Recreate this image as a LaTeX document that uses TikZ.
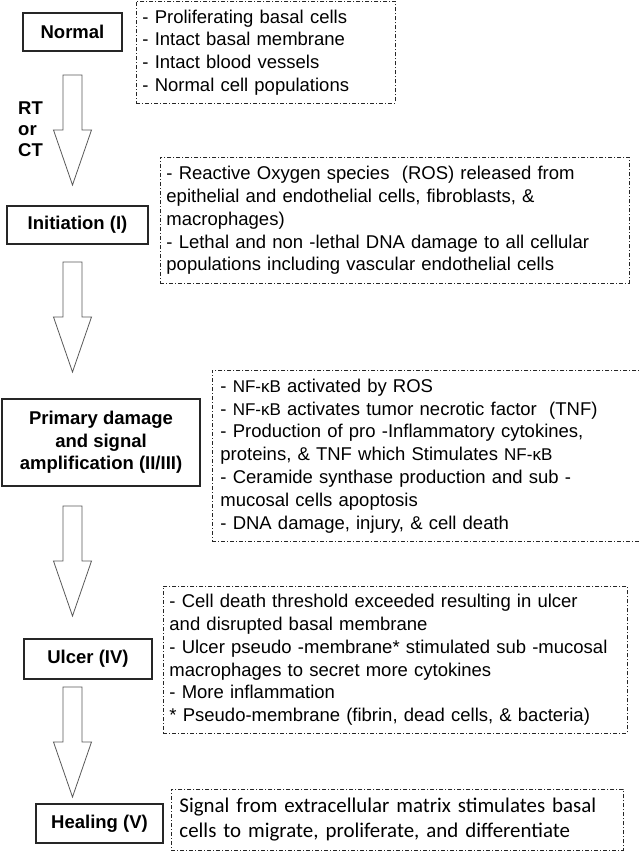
\documentclass[tikz,border=0pt]{standalone}
\usepackage{fontspec}
\setmainfont{Liberation Sans}
\newfontfamily\matrixfont{Carlito}
\usetikzlibrary{calc}

\newcommand{\nfkb}{{\fontsize{17}{17}\selectfont NF-κB}}
\newcommand{\fatarrow}[2]{\draw[fatarr] let \p1=(#1), \p2=(#2) in
  (\x1-9.5pt,\y1) -- (\x1+9.5pt,\y1) -- (\x1+9.5pt,\y2+55pt) -- (\x1+19pt,\y2+55pt)
  -- (\x2,\y2) -- (\x1-19pt,\y2+55pt) -- (\x1-9.5pt,\y2+55pt) -- cycle;}

\begin{document}
\begin{tikzpicture}[x=1pt,y=-1pt]
\tikzset{stage/.style={draw=black!85,line width=1.4pt,align=center,inner sep=0pt,
            font=\fontsize{18.5}{22.6}\selectfont\bfseries},
         notes/.style={draw=black!85,line width=0.9pt,dash pattern=on 4pt off 2pt on 1pt off 2pt,
            anchor=north west,align=left,inner xsep=6pt,inner ysep=0pt,
            font=\fontsize{18.5}{22.8}\selectfont},
         fatarr/.style={draw=black!65,line width=0.8pt,fill=white}}
\useasboundingbox (0,0) rectangle (638,852);
\node[stage,minimum width=99,minimum height=38] (normal) at (72.5,32) {Normal};
\node[stage,minimum width=141,minimum height=38] (init) at (77.5,225) {Initiation (I)};
\node[stage,minimum width=198,minimum height=87] (primary) at (101,442.5) {Primary damage\\and signal\\amplification (II/III)};
\node[stage,minimum width=128,minimum height=40] (ulcer) at (88,659) {Ulcer (IV)};
\node[stage,minimum width=127,minimum height=39] (healing) at (99.5,823.5) {Healing (V)};
\node[anchor=west,align=left,inner sep=0pt,font=\fontsize{18.5}{21}\selectfont\bfseries] (rtct) at (18,129) {RT\\or\\CT};
\node[notes,text width=247,minimum height=102] (normalnotes) at (136,1) {- Proliferating basal cells\\- Intact basal membrane\\- Intact blood vessels\\- Normal cell populations};
\node[notes,text width=457,minimum height=126] (initnotes) at (160,157) {- Reactive Oxygen species~ (ROS) released from\\epithelial and endothelial cells, fibroblasts, \&\\macrophages)\\- Lethal and non -lethal DNA damage to all cellular\\populations including vascular endothelial cells};
\node[notes,text width=412,minimum height=171,inner xsep=8pt] (primarynotes) at (212,370) {- \nfkb\ activated by ROS\\- \nfkb\ activates tumor necrotic factor~ (TNF)\\- Production of pro -Inflammatory cytokines,\\proteins, \& TNF which Stimulates \nfkb\\- Ceramide synthase production and sub -\\mucosal cells apoptosis\\- DNA damage, injury, \& cell death};
\node[notes,text width=452,minimum height=147] (ulcernotes) at (163,586) {- Cell death threshold exceeded resulting in ulcer\\and disrupted basal membrane\\- Ulcer pseudo -membrane* stimulated sub -mucosal\\macrophages to secret more cytokines\\- More inflammation\\{*} Pseudo-membrane (fibrin, dead cells, \& bacteria)};
\node[notes,text width=436,minimum height=61,inner xsep=8pt,font=\fontsize{20.9}{25}\selectfont\matrixfont] (healingnotes) at (171,789) {Signal from extracellular matrix stimulates basal\\cells to migrate, proliferate, and differentiate};
\coordinate (a1top) at (72.5,75);
\coordinate (a1tip) at (72.5,185);
\coordinate (a2top) at (72.5,262);
\coordinate (a2tip) at (72.5,372);
\coordinate (a3top) at (72.5,506);
\coordinate (a3tip) at (72.5,616);
\coordinate (a4top) at (72.5,687);
\coordinate (a4tip) at (72.5,797);
\fatarrow{a1top}{a1tip}
\fatarrow{a2top}{a2tip}
\fatarrow{a3top}{a3tip}
\fatarrow{a4top}{a4tip}
\end{tikzpicture}
\end{document}
